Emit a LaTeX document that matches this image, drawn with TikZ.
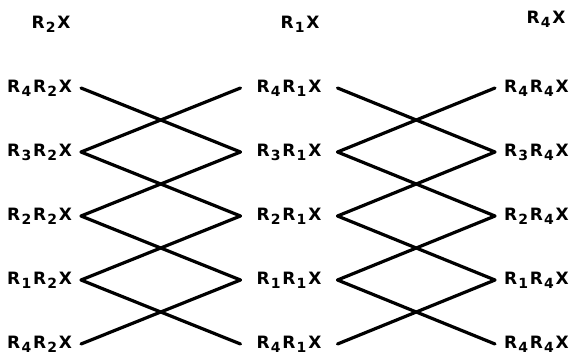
\documentclass[tikz,border=0pt]{standalone}
\usepackage{fontspec}
\setmainfont{DejaVu Sans}[BoldFont={DejaVu Sans Bold}]
\newfontfamily\lblfont{DejaVu Sans Bold}
\usetikzlibrary{positioning}
\newcommand{\rsub}[1]{\kern1.2bp\raisebox{-4bp}{\fontsize{14bp}{14bp}\selectfont #1}\kern1.8bp}
\newcommand{\rx}[1]{R\rsub{#1}X}
\newcommand{\rrx}[2]{R\rsub{#1}R\rsub{#2}X}

\begin{document}
\begin{tikzpicture}[
      x=1bp, y=1bp,
      lbl/.style={font=\lblfont\fontsize{17bp}{18bp}\selectfont, inner xsep=9bp, inner ysep=0pt, outer sep=0pt, text height=12bp, text depth=4bp},
      midlbl/.style={lbl, minimum width=97bp},
      link/.style={line width=3.2bp, line cap=round}
    ]
      \useasboundingbox (0,0) rectangle (569,356);

      % headers
      \node[lbl] (hl) at (51, 332) {\rx{2}};
      \node[lbl] (hm) at (300, 332) {\rx{1}};
      \node[lbl] (hr) at (546, 337) {\rx{4}};

      % left column
      \node[lbl, anchor=east] (l1) at (81, 268) {\rrx{4}{2}};
      \node[lbl, anchor=east] (l2) at (81, 204) {\rrx{3}{2}};
      \node[lbl, anchor=east] (l3) at (81, 140) {\rrx{2}{2}};
      \node[lbl, anchor=east] (l4) at (81, 76) {\rrx{1}{2}};
      \node[lbl, anchor=east] (l5) at (81, 12) {\rrx{4}{2}};

      % middle column
      \node[midlbl] (m1) at (289, 268) {\rrx{4}{1}};
      \node[midlbl] (m2) at (289, 204) {\rrx{3}{1}};
      \node[midlbl] (m3) at (289, 140) {\rrx{2}{1}};
      \node[midlbl] (m4) at (289, 76) {\rrx{1}{1}};
      \node[midlbl] (m5) at (289, 12) {\rrx{4}{1}};

      % right column
      \node[lbl, anchor=west] (r1) at (495, 268) {\rrx{4}{4}};
      \node[lbl, anchor=west] (r2) at (495, 204) {\rrx{3}{4}};
      \node[lbl, anchor=west] (r3) at (495, 140) {\rrx{2}{4}};
      \node[lbl, anchor=west] (r4) at (495, 76) {\rrx{1}{4}};
      \node[lbl, anchor=west] (r5) at (495, 12) {\rrx{4}{4}};

      % crossings
      \foreach \i/\j in {1/2, 2/3, 3/4, 4/5} {
        \draw[link] (l\i.east) -- (m\j.west);
        \draw[link] (l\j.east) -- (m\i.west);
        \draw[link] (m\i.east) -- (r\j.west);
        \draw[link] (m\j.east) -- (r\i.west);
      }
    \end{tikzpicture}
\end{document}
